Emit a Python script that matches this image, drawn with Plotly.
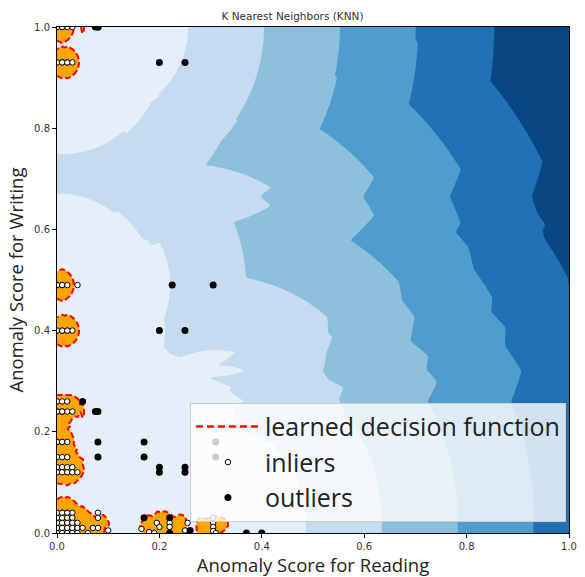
import numpy as np
import plotly.graph_objects as go

# ---------------- data ----------------
inlier_x = [
    0.00, 0.01, 0.02, 0.03, 0.00, 0.01,             # y = 1.00
    0.00, 0.01, 0.02, 0.03, 0.01, 0.02,             # y = 0.93
    0.00, 0.01, 0.02, 0.00, 0.01, 0.04,             # y = 0.49
    0.00, 0.01, 0.02, 0.03, 0.01, 0.02,             # y = 0.40
    0.00, 0.01, 0.02,                               # y = 0.26
    0.00, 0.01, 0.02, 0.03, 0.00, 0.01,             # y = 0.24
    0.00, 0.01, 0.02, 0.00, 0.01,                   # y = 0.18
    0.00, 0.01, 0.02,                               # y = 0.15
    0.00, 0.01, 0.02, 0.03,                         # y = 0.13
    0.00, 0.01, 0.02, 0.03, 0.04,                   # y = 0.12
    0.00, 0.01, 0.02, 0.03, 0.01, 0.02,             # y = 0.04
    0.00, 0.01, 0.02, 0.03,                         # y = 0.03
    0.00, 0.01, 0.02, 0.03, 0.04,                   # y = 0.02
    0.00, 0.01, 0.02, 0.03, 0.04, 0.05,             # y = 0.01
    0.00, 0.01, 0.02, 0.03, 0.04, 0.06,             # y = 0.00
    0.08, 0.08, 0.08, 0.07, 0.10,
    0.165, 0.18, 0.195, 0.20, 0.22, 0.22, 0.255, 0.25, 0.19,
    0.305, 0.305, 0.305, 0.305, 0.31,
]
inlier_y = [
    1.00, 1.00, 1.00, 1.00, 1.00, 1.00,
    0.93, 0.93, 0.93, 0.93, 0.93, 0.93,
    0.49, 0.49, 0.49, 0.49, 0.49, 0.49,
    0.40, 0.40, 0.40, 0.40, 0.40, 0.40,
    0.26, 0.26, 0.26,
    0.24, 0.24, 0.24, 0.24, 0.24, 0.24,
    0.18, 0.18, 0.18, 0.18, 0.18,
    0.15, 0.15, 0.15,
    0.13, 0.13, 0.13, 0.13,
    0.12, 0.12, 0.12, 0.12, 0.12,
    0.04, 0.04, 0.04, 0.04, 0.04, 0.04,
    0.03, 0.03, 0.03, 0.03,
    0.02, 0.02, 0.02, 0.02, 0.02,
    0.01, 0.01, 0.01, 0.01, 0.01, 0.01,
    0.00, 0.00, 0.00, 0.00, 0.00, 0.00,
    0.04, 0.03, 0.01, 0.01, 0.005,
    0.008, 0.002, 0.02, 0.012, 0.02, 0.012, 0.02, 0.005, 0.0,
    0.03, 0.02, 0.012, 0.004, 0.0,
]

outlier_x = [0.075, 0.08, 0.08, 0.20, 0.25, 0.225, 0.305, 0.20, 0.25,
             0.05, 0.08, 0.075, 0.08, 0.08, 0.17, 0.17, 0.20, 0.20,
             0.25, 0.25, 0.31, 0.31, 0.17, 0.22, 0.22, 0.26, 0.37, 0.40]
outlier_y = [1.00, 1.00, 1.00, 0.93, 0.93, 0.49, 0.49, 0.40, 0.40,
             0.26, 0.24, 0.24, 0.18, 0.15, 0.18, 0.15, 0.13, 0.12,
             0.13, 0.12, 0.18, 0.15, 0.03, 0.03, 0.0, 0.005, 0.0, 0.0]

THRESHOLD = 0.033     # score at which the learned decision function is drawn
N_NEIGHBORS = 5
N_BANDS = 6

BLUES = ["#e5eff9", "#c6dbef", "#8dc0dd", "#509ccc", "#2171b5", "#084684"]

# ---------------- KNN anomaly score on a grid ----------------
train = np.column_stack([inlier_x + outlier_x, inlier_y + outlier_y])
g = np.linspace(0, 1, 200)
xx, yy = np.meshgrid(g, g)
grid = np.column_stack([xx.ravel(), yy.ravel()])
d = np.sqrt(((grid[:, None, :] - train[None, :, :]) ** 2).sum(-1))
Z = np.sort(d, axis=1)[:, N_NEIGHBORS - 1].reshape(xx.shape)

zmax = float(Z.max())
step = (zmax - THRESHOLD) / N_BANDS

# colour scale: background (below threshold) -> orange, bands -> Blues
nc = N_BANDS + 1
cs = [[0.0, "orange"]]
for i, c in enumerate(BLUES):
    cs.append([(i + 1) / nc, c])
cs.append([1.0, BLUES[-1]])

fig = go.Figure()
fig.add_trace(go.Contour(
    x=g, y=g, z=Z,
    autocontour=False,
    contours=dict(start=THRESHOLD, end=THRESHOLD + N_BANDS * step, size=step,
                  coloring="fill", showlines=False),
    colorscale=cs, showscale=False, line=dict(width=0, smoothing=0),
    hoverinfo="skip", showlegend=False,
))
fig.add_trace(go.Contour(
    x=g, y=g, z=Z,
    autocontour=False,
    contours=dict(start=THRESHOLD, end=THRESHOLD, size=1, coloring="none"),
    line=dict(color="red", width=2, dash="6px,3px", smoothing=0),
    showscale=False, hoverinfo="skip", showlegend=False,
))

fig.add_trace(go.Scatter(
    x=[None], y=[None], mode="lines", name="learned decision function",
    line=dict(color="red", width=2.5, dash="7px,4px"),
))
fig.add_trace(go.Scatter(
    x=inlier_x, y=inlier_y, mode="markers", name="inliers",
    marker=dict(color="white", size=5.5, line=dict(color="black", width=1)),
))
fig.add_trace(go.Scatter(
    x=outlier_x, y=outlier_y, mode="markers", name="outliers",
    marker=dict(color="black", size=7),
))

axis_common = dict(
    range=[0, 1], showgrid=False, zeroline=False,
    showline=True, linecolor="black", linewidth=1, mirror=True,
    ticks="outside", ticklen=4, tickcolor="black",
    tickvals=[0, 0.2, 0.4, 0.6, 0.8, 1.0],
    ticktext=["0.0", "0.2", "0.4", "0.6", "0.8", "1.0"],
    tickfont=dict(family="DejaVu Sans", size=10, color="#333333"),
)

fig.update_layout(
    width=585, height=577,
    margin=dict(l=57, r=8, t=27, b=44),
    paper_bgcolor="white", plot_bgcolor="white",
    title=dict(text="K Nearest Neighbors (KNN)", x=0.5, xanchor="center",
               y=0.978, yanchor="top",
               font=dict(family="DejaVu Sans", size=10.5, color="#333333")),
    xaxis=dict(axis_common, title=dict(text="Anomaly Score for Reading", standoff=3,
               font=dict(family="Open Sans", size=18.5, color="#222222"))),
    yaxis=dict(axis_common, title=dict(text="Anomaly Score for Writing", standoff=5,
               font=dict(family="Open Sans", size=18.5, color="#222222"))),
    legend=dict(x=0.994, xanchor="right", y=0.022, yanchor="bottom",
                bgcolor="rgba(255,255,255,0.8)", bordercolor="#cccccc", borderwidth=1,
                itemwidth=64,
                font=dict(family="Open Sans", size=25, color="#222222")),
    showlegend=True,
)

fig.write_html("out.html")
